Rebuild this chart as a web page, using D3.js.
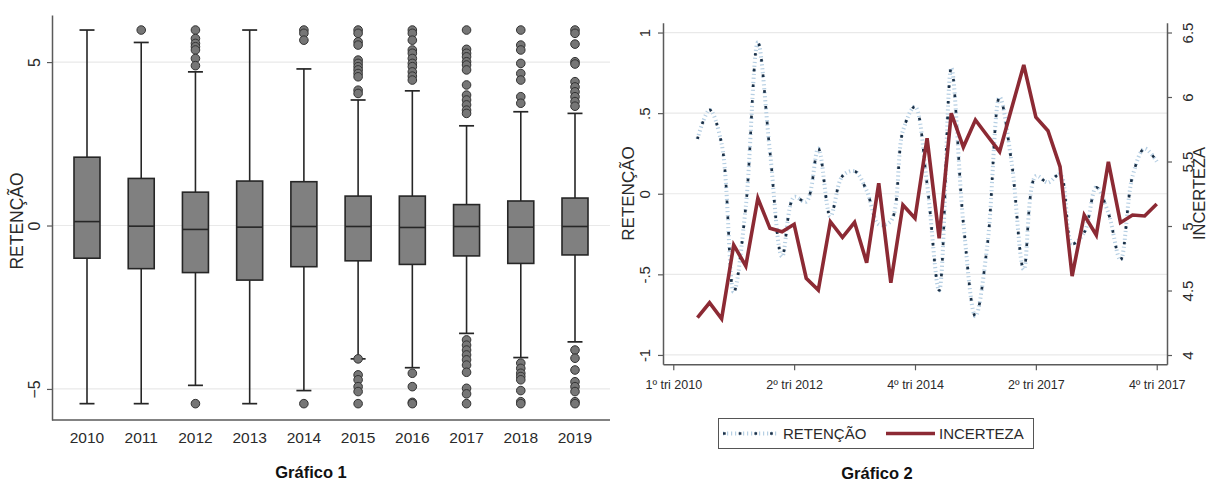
<!DOCTYPE html>
<html>
<head>
<meta charset="utf-8">
<script src="https://cdn.jsdelivr.net/npm/d3@7"></script>
<style>
  body { margin: 0; background: #fff; }
  svg { display: block; font-family: "Liberation Sans", Arial, sans-serif; }
</style>
</head>
<body>
<svg id="chart" width="1209" height="482"></svg>
<script>
// ---------- Gráfico 1: distribution of RETENÇÃO by year ----------
const years        = ["2010","2011","2012","2013","2014","2015","2016","2017","2018","2019"];
const boxQ1        = [-1.00, -1.32, -1.44, -1.67, -1.26, -1.08, -1.19, -0.93, -1.16, -0.90];
const boxMedian    = [ 0.12, -0.02, -0.12, -0.05, -0.03, -0.03, -0.06, -0.03, -0.05, -0.03];
const boxQ3        = [ 2.09,  1.44,  1.02,  1.36,  1.34,  0.90,  0.90,  0.64,  0.75,  0.84];
const whiskerLow   = [-5.45, -5.45, -4.89, -5.45, -5.05, -4.08, -4.35, -3.30, -4.04, -3.56];
const whiskerHigh  = [ 5.98,  5.60,  4.70,  5.98,  4.79,  3.84,  4.12,  3.05,  3.48,  3.43];
const outliersHigh = [
  [],
  [5.98],
  [5.98, 5.72, 5.57, 5.47, 5.37, 5.11, 4.89],
  [],
  [5.98, 5.88, 5.67],
  [5.98, 5.88, 5.62, 5.52, 5.06, 4.96, 4.86, 4.76, 4.65, 4.55, 4.14, 4.04],
  [5.98, 5.88, 5.67, 5.37, 5.27, 5.11, 4.96, 4.86, 4.70, 4.57, 4.45],
  [5.98, 5.39, 5.27, 5.16, 5.01, 4.91, 4.76, 4.30, 3.99, 3.84, 3.69, 3.53, 3.43],
  [5.98, 5.52, 5.37, 4.96, 4.65, 4.45, 3.94, 3.74],
  [5.98, 5.88, 5.55, 5.01, 4.94, 4.40, 4.24, 4.09, 3.94, 3.79, 3.65]
];
const outliersLow = [
  [],
  [],
  [-5.45],
  [],
  [-5.45],
  [-4.08, -4.57, -4.72, -4.93, -5.08, -5.45],
  [-4.52, -4.93, -5.41, -5.45],
  [-3.50, -3.66, -3.81, -3.96, -4.11, -4.27, -4.49, -4.98, -5.15, -5.45],
  [-4.21, -4.37, -4.52, -4.62, -4.72, -5.05, -5.39, -5.45],
  [-3.81, -4.06, -4.42, -4.78, -4.93, -5.08, -5.39, -5.45]
];
const boxTicks = [-5, 0, 5];

// ---------- Gráfico 2: quarterly RETENÇÃO and INCERTEZA ----------
const quarterIndex = [2,3,4,5,6,7,8,9,10,11,12,13,14,15,16,17,18,19,20,21,
                      22,23,24,25,26,27,28,29,30,31,32,33,34,35,36,37,38,39,40];
const retencao  = [0.34, 0.52, 0.31, -0.61, -0.08, 0.94, 0.26, -0.39, -0.02, -0.05,
                   0.28, -0.14, 0.11, 0.14, 0.02, -0.19, -0.17, 0.39, 0.54, 0.06,
                   -0.60, 0.78, -0.18, -0.76, -0.31, 0.60, 0.19, -0.47, 0.11, 0.07,
                   0.12, -0.31, -0.24, 0.04, -0.12, -0.41, 0.11, 0.28, 0.20];
const incerteza = [4.29, 4.405, 4.28, 4.853, 4.69, 5.215, 4.982, 4.956, 5.013, 4.595,
                   4.504, 5.033, 4.912, 5.029, 4.716, 5.331, 4.56, 5.163, 5.06, 5.68,
                   4.905, 5.874, 5.612, 5.822, 5.698, 5.576, 5.915, 6.248, 5.843, 5.739,
                   5.46, 4.612, 5.085, 4.93, 5.498, 5.026, 5.085, 5.078, 5.171];
const quarterTicks      = [0, 10, 20, 30, 40];
const quarterTickLabels = ["1º tri 2010", "2º tri 2012", "4º tri 2014", "2º tri 2017", "4º tri 2017"];
const retTicks = [-1, -0.5, 0, 0.5, 1];
const incTicks = [4, 4.5, 5, 5.5, 6, 6.5];

const AXIS = "#5a5a5a", GRID = "#e9e9e9", TEXT = "#2a2a2a";
const svg = d3.select("#chart");

function styleAxis(g) {
  g.select(".domain").attr("stroke", AXIS).attr("stroke-width", 1.5);
  g.selectAll(".tick line").attr("stroke", AXIS).attr("stroke-width", 1.2);
  g.selectAll(".tick text").attr("fill", TEXT).attr("font-family", null);
}
function rotateTicks(g, offset, size) {
  g.selectAll(".tick text")
    .attr("transform", "rotate(-90)")
    .attr("x", 0).attr("y", offset).attr("dy", null).attr("dx", null)
    .attr("text-anchor", "middle")
    .attr("font-size", size);
}

// ===== Box plot =====
const xB = d3.scalePoint().domain(years).range([87, 575]);
const yB = d3.scaleLinear().domain([-5.95, 6.44]).range([420, 15]);
const L_LEFT = 52, L_RIGHT = 610, L_BOTTOM = 420;

svg.append("g").selectAll("line").data(boxTicks).join("line")
  .attr("x1", L_LEFT).attr("x2", L_RIGHT)
  .attr("y1", d => yB(d)).attr("y2", d => yB(d))
  .attr("stroke", GRID).attr("stroke-width", 1.2);

const axB = svg.append("g").attr("transform", `translate(${L_LEFT},0)`)
  .call(d3.axisLeft(yB).tickValues(boxTicks).tickSize(5).tickSizeOuter(0).tickFormat(d3.format("d")));
styleAxis(axB);
rotateTicks(axB, -12, 16);

svg.append("line")
  .attr("x1", L_LEFT).attr("x2", L_RIGHT).attr("y1", L_BOTTOM).attr("y2", L_BOTTOM)
  .attr("stroke", AXIS).attr("stroke-width", 1.5);

svg.append("g").selectAll("text").data(years).join("text")
  .attr("x", d => xB(d)).attr("y", 443)
  .attr("text-anchor", "middle").attr("font-size", 15.5).attr("fill", TEXT)
  .text(d => d);

svg.append("text")
  .attr("transform", "translate(23,221) rotate(-90)")
  .attr("text-anchor", "middle").attr("font-size", 17.5).attr("fill", TEXT)
  .text("RETENÇÃO");

const boxW = 26, capW = 15;
const boxes = svg.append("g").selectAll("g").data(years).join("g")
  .attr("transform", d => `translate(${xB(d)},0)`);
boxes.append("line")
  .attr("y1", (d, i) => yB(boxQ3[i])).attr("y2", (d, i) => yB(whiskerHigh[i]))
  .attr("stroke", "#262626").attr("stroke-width", 1.6);
boxes.append("line")
  .attr("y1", (d, i) => yB(boxQ1[i])).attr("y2", (d, i) => yB(whiskerLow[i]))
  .attr("stroke", "#262626").attr("stroke-width", 1.6);
boxes.append("line")
  .attr("x1", -capW / 2).attr("x2", capW / 2)
  .attr("y1", (d, i) => yB(whiskerHigh[i])).attr("y2", (d, i) => yB(whiskerHigh[i]))
  .attr("stroke", "#262626").attr("stroke-width", 1.7);
boxes.append("line")
  .attr("x1", -capW / 2).attr("x2", capW / 2)
  .attr("y1", (d, i) => yB(whiskerLow[i])).attr("y2", (d, i) => yB(whiskerLow[i]))
  .attr("stroke", "#262626").attr("stroke-width", 1.7);
boxes.append("rect")
  .attr("x", -boxW / 2).attr("width", boxW)
  .attr("y", (d, i) => yB(boxQ3[i]))
  .attr("height", (d, i) => yB(boxQ1[i]) - yB(boxQ3[i]))
  .attr("fill", "#808080").attr("stroke", "#262626").attr("stroke-width", 1.6);
boxes.append("line")
  .attr("x1", -boxW / 2).attr("x2", boxW / 2)
  .attr("y1", (d, i) => yB(boxMedian[i])).attr("y2", (d, i) => yB(boxMedian[i]))
  .attr("stroke", "#262626").attr("stroke-width", 1.6);
boxes.each(function (d, i) {
  d3.select(this).selectAll("circle")
    .data(outliersHigh[i].concat(outliersLow[i])).join("circle")
    .attr("cx", 0).attr("cy", v => yB(v)).attr("r", 4.3)
    .attr("fill", "#767676").attr("stroke", "#333").attr("stroke-width", 1);
});

svg.append("text")
  .attr("x", 311).attr("y", 478)
  .attr("text-anchor", "middle").attr("font-size", 16.5).attr("font-weight", "bold")
  .attr("fill", "#111").text("Gráfico 1");

// ===== Dual-axis line chart =====
const R_LEFT = 663, R_RIGHT = 1167, R_TOP = 22.7, R_BOTTOM = 364.3;
const xQ = d3.scaleLinear().domain([-0.85, 40.85]).range([R_LEFT, R_RIGHT]);
const yR = d3.scaleLinear().domain([-1.058, 1.061]).range([R_BOTTOM, R_TOP]);
const yI = d3.scaleLinear().domain([3.928, 6.576]).range([R_BOTTOM, R_TOP]);

svg.append("g").selectAll("line").data(retTicks).join("line")
  .attr("x1", R_LEFT).attr("x2", R_RIGHT)
  .attr("y1", d => yR(d)).attr("y2", d => yR(d))
  .attr("stroke", GRID).attr("stroke-width", 1.2);

const fmtRet = d => d === 0 ? "0" : String(d).replace("0.", ".");
const axR = svg.append("g").attr("transform", `translate(${R_LEFT},0)`)
  .call(d3.axisLeft(yR).tickValues(retTicks).tickSize(5).tickSizeOuter(0).tickFormat(fmtRet));
styleAxis(axR);
rotateTicks(axR, -13, 15);

const axI = svg.append("g").attr("transform", `translate(${R_RIGHT},0)`)
  .call(d3.axisRight(yI).tickValues(incTicks).tickSize(5).tickSizeOuter(0).tickFormat(d3.format("")));
styleAxis(axI);
rotateTicks(axI, 26, 15);

const axQ = svg.append("g").attr("transform", `translate(0,${R_BOTTOM})`)
  .call(d3.axisBottom(xQ).tickValues(quarterTicks).tickSize(6).tickSizeOuter(0)
    .tickFormat((d, i) => quarterTickLabels[i]));
styleAxis(axQ);
axQ.selectAll(".tick text")
  .attr("font-family", "'Liberation Sans Narrow', 'Arial Narrow', 'Liberation Sans', sans-serif")
  .attr("font-size", 12.5).attr("y", 16);

svg.append("text")
  .attr("transform", "translate(634,193.5) rotate(-90)")
  .attr("text-anchor", "middle").attr("font-size", 17).attr("fill", TEXT)
  .text("RETENÇÃO");
svg.append("text")
  .attr("transform", "translate(1205,193.5) rotate(-90)")
  .attr("text-anchor", "middle").attr("font-size", 16.5).attr("fill", TEXT)
  .text("INCERTEZA");

const retLine = d3.line()
  .x((d, i) => xQ(quarterIndex[i])).y(d => yR(d))
  .curve(d3.curveCatmullRom.alpha(0.5));
const incLine = d3.line()
  .x((d, i) => xQ(quarterIndex[i])).y(d => yI(d));

const LIGHT = "#b6cfe3", DARK = "#1b3148", RED = "#8c2a34";
function drawRet(sel, pathD) {
  sel.append("path").attr("d", pathD).attr("fill", "none")
    .attr("stroke", LIGHT).attr("stroke-width", 4).attr("stroke-dasharray", "1.2,2.8");
  sel.append("path").attr("d", pathD).attr("fill", "none")
    .attr("stroke", DARK).attr("stroke-width", 2.7).attr("stroke-dasharray", "2.7,13");
}
const gRet = svg.append("g");
drawRet(gRet, retLine(retencao));
svg.append("path").attr("d", incLine(incerteza)).attr("fill", "none")
  .attr("stroke", RED).attr("stroke-width", 3.6).attr("stroke-linejoin", "miter");

// legend
const legend = svg.append("g");
legend.append("rect").attr("x", 718.5).attr("y", 418.5).attr("width", 315).attr("height", 30)
  .attr("fill", "none").attr("stroke", "#555").attr("stroke-width", 1);
drawRet(legend, "M723,433.5H777");
legend.append("text").attr("x", 783).attr("y", 439).attr("font-size", 15).attr("fill", TEXT).text("RETENÇÃO");
legend.append("line").attr("x1", 886).attr("x2", 935).attr("y1", 433.5).attr("y2", 433.5)
  .attr("stroke", RED).attr("stroke-width", 3.6);
legend.append("text").attr("x", 939).attr("y", 439).attr("font-size", 15).attr("fill", TEXT).text("INCERTEZA");

svg.append("text")
  .attr("x", 877).attr("y", 479)
  .attr("text-anchor", "middle").attr("font-size", 16.5).attr("font-weight", "bold")
  .attr("fill", "#111").text("Gráfico 2");
</script>
</body>
</html>
